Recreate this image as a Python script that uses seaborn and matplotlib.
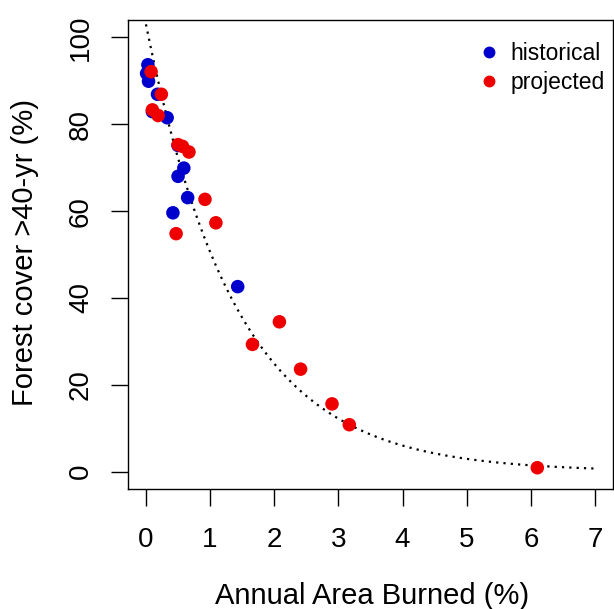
import numpy as np
import pandas as pd
import seaborn as sns
import matplotlib.pyplot as plt
from matplotlib.lines import Line2D

# datos
hist_burned = [0.03, 0.01, 0.04, 0.18, 0.10, 0.33, 0.50, 0.59, 0.50, 0.65, 0.42, 1.43]
hist_cover = [93.7, 91.7, 89.9, 86.9, 82.9, 81.5, 75.1, 69.9, 68.0, 63.1, 59.6, 42.6]

proj_burned = [0.08, 0.24, 0.10, 0.19, 0.50, 0.57, 0.67, 0.92, 1.09, 0.47,
               2.08, 1.66, 2.41, 2.90, 3.17, 6.10]
proj_cover = [92.1, 86.9, 83.3, 82.0, 75.3, 74.9, 73.6, 62.7, 57.3, 54.8,
              34.5, 29.3, 23.6, 15.6, 10.8, 0.9]

# ajuste exponencial (cover = a * exp(-b * burned))
fit_a = 103.0
fit_b = 0.711

xticks = [0, 1, 2, 3, 4, 5, 6, 7]
yticks = [0, 20, 40, 60, 80, 100]

BLUE = "#0000CD"
RED = "#EE0000"

df = pd.DataFrame({
    "burned": hist_burned + proj_burned,
    "cover": hist_cover + proj_cover,
    "period": ["historical"] * len(hist_burned) + ["projected"] * len(proj_burned),
})

sns.set_style("white")
plt.rcParams["font.family"] = ["Liberation Sans", "DejaVu Sans"]
plt.rcParams["text.color"] = "black"
plt.rcParams["axes.labelcolor"] = "black"
plt.rcParams["xtick.color"] = "black"
plt.rcParams["ytick.color"] = "black"

fig = plt.figure(figsize=(6.14, 6.09), dpi=100)
ax = fig.add_axes([128 / 614, 120 / 609, 485 / 614, 469 / 609])

xs = np.linspace(0, 7, 300)
ax.plot(xs, fit_a * np.exp(-fit_b * xs), color="black", lw=1.6,
        linestyle=(0, (1, 2.3)), dash_capstyle="butt")

sns.scatterplot(data=df, x="burned", y="cover", hue="period",
                palette={"historical": BLUE, "projected": RED},
                s=95, linewidth=0, legend=False, ax=ax, zorder=3)

ax.set_xlim(-0.28, 7.28)
ax.set_ylim(-4, 104)
ax.set_xticks(xticks)
ax.set_yticks(yticks)
ax.tick_params(axis="both", direction="out", length=12.5, width=1.0,
               labelsize=20, color="black", labelcolor="black",
               bottom=True, left=True)
ax.tick_params(axis="x", pad=15)
ax.tick_params(axis="y", pad=12, labelrotation=90)
for lab in ax.get_yticklabels():
    lab.set_verticalalignment("center")

for sp in ax.spines.values():
    sp.set_visible(True)
    sp.set_color("black")
    sp.set_linewidth(1.0)

ax.set_xlabel("Annual Area Burned (%)", fontsize=21, color="black")
ax.set_ylabel("Forest cover >40-yr (%)", fontsize=21, color="black")
ax.xaxis.set_label_coords(0.503, -0.198)
ax.yaxis.set_label_coords(-0.183, 0.505)

handles = [Line2D([], [], marker="o", ls="", color=BLUE, markersize=7.5),
           Line2D([], [], marker="o", ls="", color=RED, markersize=7.5)]
ax.legend(handles, ["historical", "projected"], loc="upper left",
          bbox_to_anchor=(0.702, 0.973), frameon=False, fontsize=16.5,
          handlelength=1.0, handletextpad=0.45, labelspacing=0.25,
          borderaxespad=0)

fig.savefig("out.png", dpi=100)
